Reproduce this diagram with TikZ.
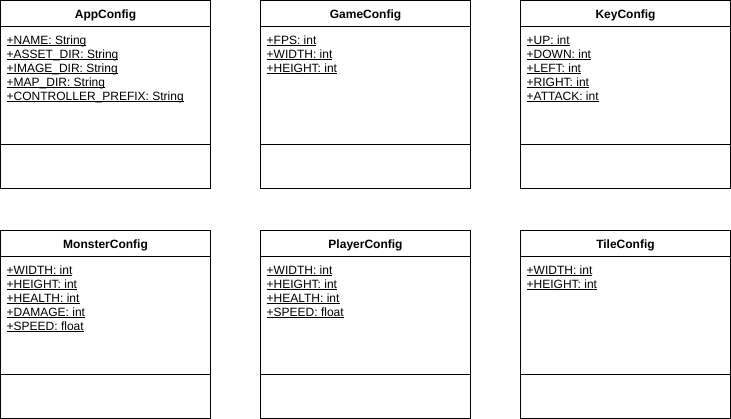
\documentclass[tikz,border=0pt]{standalone}
\usepackage{fontspec}
\setmainfont{Liberation Sans}
\newcommand\attrul[1]{\setbox0\hbox{#1}\rlap{\rule[-1.4pt]{\wd0}{0.7pt}}\box0}
\tikzset{
  classbox/.style={draw, line width=1pt, minimum width=210pt, minimum height=188pt, inner sep=0pt, outer sep=0pt, anchor=north west},
  compline/.style={line width=1pt},
  classtitle/.style={font=\bfseries\fontsize{12}{14}\selectfont, anchor=base, inner sep=0pt},
  attr/.style={font=\fontsize{12}{14}\selectfont, anchor=base west, inner sep=0pt}
}
\newcommand\umlclass[5]{%
  \node[classbox] (#1) at (#2,#3) {};
  \draw[compline] ([yshift=-26pt]#1.north west) -- ([yshift=-26pt]#1.north east);
  \draw[compline] ([yshift=-144pt]#1.north west) -- ([yshift=-144pt]#1.north east);
  \node[classtitle] (#1-t) at ([yshift=-17.7pt]#1.north) {#4};
  \foreach \a [count=\i] in {#5}
    \node[attr] (#1-a\i) at ([xshift=6pt,yshift={-30pt-14pt*\i}]#1.north west) {\attrul{\a}};
}
\begin{document}
\begin{tikzpicture}[x=1pt,y=-1pt]
\useasboundingbox (0,0) rectangle (731,419);
\umlclass{app}{0.5}{0.5}{AppConfig}{+NAME: String,+ASSET\_DIR: String,+IMAGE\_DIR: String,+MAP\_DIR: String,+CONTROLLER\_PREFIX: String}
\umlclass{game}{260.5}{0.5}{GameConfig}{+FPS: int,+WIDTH: int,+HEIGHT: int}
\umlclass{key}{520.5}{0.5}{KeyConfig}{+UP: int,+DOWN: int,+LEFT: int,+RIGHT: int,+ATTACK: int}
\umlclass{monster}{0.5}{230.5}{MonsterConfig}{+WIDTH: int,+HEIGHT: int,+HEALTH: int,+DAMAGE: int,+SPEED: float}
\umlclass{player}{260.5}{230.5}{PlayerConfig}{+WIDTH: int,+HEIGHT: int,+HEALTH: int,+SPEED: float}
\umlclass{tile}{520.5}{230.5}{TileConfig}{+WIDTH: int,+HEIGHT: int}
\end{tikzpicture}
\end{document}
